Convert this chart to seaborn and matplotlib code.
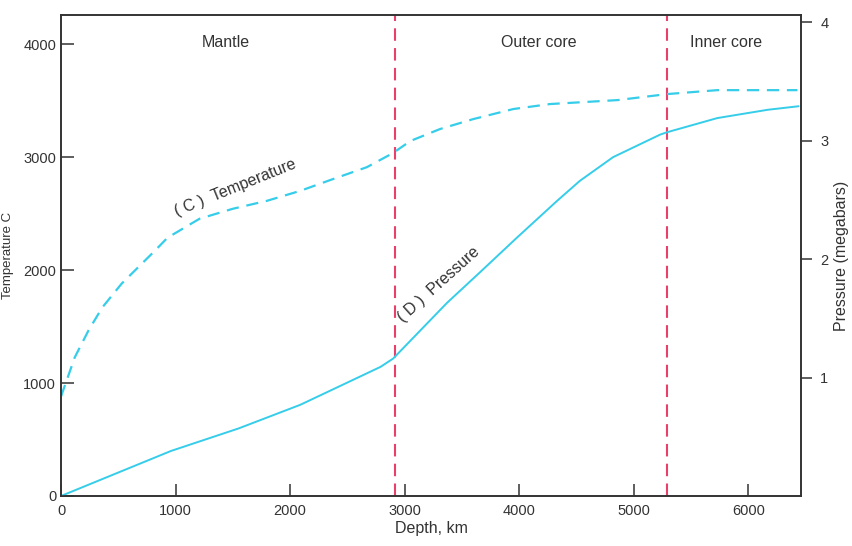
import numpy as np
import pandas as pd
import seaborn as sns
import matplotlib.pyplot as plt

# temperature profile (deg C) vs depth (km)
temp_depth = [0, 120, 240, 360, 530, 820, 930, 1210, 1500, 1800, 2090, 2380, 2670, 2900,
              3050, 3310, 3600, 3950, 4270, 4860, 5290, 5730, 6430]
temp_c = [880, 1227, 1465, 1668, 1880, 2171, 2286, 2454, 2542, 2613, 2701, 2807, 2910, 3036,
          3142, 3248, 3336, 3425, 3469, 3504, 3557, 3592, 3592]

# pressure profile (megabars) vs depth (km)
pres_depth = [0, 960, 1550, 2090, 2440, 2790, 2900, 3070, 3370, 3660, 3980, 4330, 4530,
              4820, 5230, 5290, 5730, 6170, 6440]
pres_mbar = [0.0, 0.38, 0.57, 0.77, 0.93, 1.09, 1.16, 1.33, 1.63, 1.89, 2.18, 2.49, 2.66,
             2.86, 3.05, 3.07, 3.19, 3.26, 3.29]

boundaries = [2920, 5290]
zones = ["Mantle", "Outer core", "Inner core"]
zone_x = [1440, 4170, 5810]

temp_df = pd.DataFrame({"depth": temp_depth, "temp": temp_c})
pres_df = pd.DataFrame({"depth": pres_depth, "pres": pres_mbar})

sns.set_style("ticks")
plt.rcParams["font.family"] = ["Liberation Sans", "DejaVu Sans"]
cyan = "#35cde9"
red = "#e8406a"
grey = "#333333"

fig = plt.figure(figsize=(8.52, 5.46), dpi=100)
ax = fig.add_axes([0.0716, 0.0916, 0.8684, 0.8809])
ax2 = ax.twinx()

sns.lineplot(data=temp_df, x="depth", y="temp", ax=ax, color=cyan, lw=1.6,
             linestyle=(0, (5.5, 3.5)))
sns.lineplot(data=pres_df, x="depth", y="pres", ax=ax2, color=cyan, lw=1.4)

for b in boundaries:
    ax.axvline(b, color=red, lw=1.5, linestyle=(0, (6, 3.5)), zorder=1)

ax.set_xlim(0, 6460)
ax.set_ylim(0, 4257)
ax2.set_ylim(0, 4.06)

ax.set_xticks([0, 1000, 2000, 3000, 4000, 5000, 6000])
ax.set_yticks([0, 1000, 2000, 3000, 4000])
ax2.set_yticks([1, 2, 3, 4])

ax.tick_params(axis="both", direction="in", length=9, width=1.1, colors=grey,
               labelsize=10.5)
ax.tick_params(axis="x", pad=6)
ax2.tick_params(axis="y", direction="out", length=8, width=1.1, colors=grey,
                labelsize=10.5, pad=6)

for a in (ax, ax2):
    for s in a.spines.values():
        s.set_color(grey)
        s.set_linewidth(1.2)

ax.set_xlabel("Depth, km", fontsize=11.5, color=grey, labelpad=2)
ax.set_ylabel("Temperature C", fontsize=9.5, color=grey)
ax.yaxis.set_label_coords(-0.063, 0.5)
ax2.set_ylabel("Pressure (megabars)", fontsize=11.5, color=grey)
ax2.yaxis.set_label_coords(1.045, 0.5)

for name, x in zip(zones, zone_x):
    ax.text(x, 4010, name, ha="center", va="center", fontsize=11.5, color=grey)

ax.text(1520, 2730, "( C )  Temperature", rotation=22, ha="center", va="center",
        fontsize=11.5, color=grey)
ax.text(3300, 1870, "( D )  Pressure", rotation=42, ha="center", va="center",
        fontsize=11.5, color=grey)

fig.savefig("out.png", dpi=100)
